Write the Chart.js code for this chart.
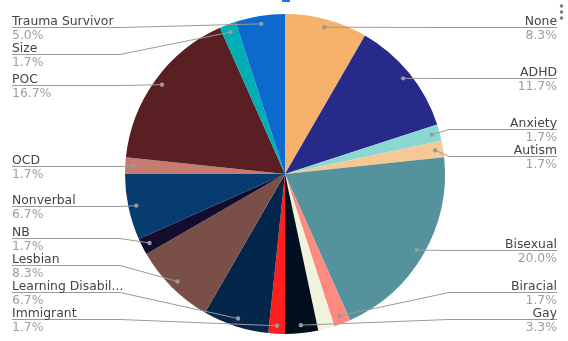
<!DOCTYPE html>
<html>
<head>
<meta charset="utf-8">
<script src="https://cdn.jsdelivr.net/npm/chart.js@4.4.1/dist/chart.umd.min.js"></script>
<style>
  html, body { margin: 0; padding: 0; background: #fff; }
  #wrap { width: 568px; height: 341px; position: relative; }
</style>
</head>
<body>
<div id="wrap"><canvas id="pie"></canvas></div>
<script>
// Slices in drawing order (clockwise from 12 o'clock)
const labels = ['None', 'ADHD', 'Anxiety', 'Autism', 'Bisexual', 'Biracial', 'Deaf',
    'Gay', 'Immigrant', 'Learning Disability', 'Lesbian', 'NB', 'Nonverbal', 'OCD',
    'POC', 'Size', 'Trauma Survivor'];
const counts = [5, 7, 1, 1, 12, 1, 1, 2, 1, 4, 5, 1, 4, 1, 10, 1, 3];
const colors = ['#f6b26b', '#282a8a', '#8ad8d1', '#f8c796', '#54939d', '#ff8a80', '#f0f4dc',
    '#020f1f', '#ff1d1d', '#03264a', '#7a4f48', '#140c2e', '#063c70', '#c57c6e',
    '#5a1f23', '#00afb5', '#0c69cd'];
// slices whose label is not drawn (no room in the reference)
const hiddenLabels = ['Deaf'];

const NAME_COLOR = '#444';
const PCT_COLOR = '#9e9e9e';
const LINE_COLOR = '#9a9a9a';
const FONT = '"DejaVu Sans", Verdana, sans-serif';

// Outside labels with leader lines, stacked per side
const calloutPlugin = {
    id: 'callouts',
    afterDatasetsDraw(chart) {
        const ctx = chart.ctx;
        const meta = chart.getDatasetMeta(0);
        const total = counts.reduce((a, b) => a + b, 0);
        const W = chart.width;
        const minY = 27, maxY = 319, gap = 27, seg = 108;
        const items = [];
        meta.data.forEach((arc, i) => {
            if (hiddenLabels.includes(labels[i])) return;
            const mid = (arc.startAngle + arc.endAngle) / 2;
            const r = arc.outerRadius * 0.95;
            const px = arc.x + Math.cos(mid) * r;
            const py = arc.y + Math.sin(mid) * r;
            items.push({ i, px, py, right: px >= arc.x, y: py });
        });

        // place each side: merge overlapping groups, centre on the mean, clamp
        [true, false].forEach(side => {
            const list = items.filter(d => d.right === side).sort((a, b) => a.py - b.py);
            let groups = list.map(d => ({ items: [d], want: [d.py] }));
            const layout = g => {
                const n = g.items.length;
                const mean = g.want.reduce((a, b) => a + b, 0) / n;
                let top = mean - (n - 1) * gap / 2;
                top = Math.max(minY, Math.min(top, maxY - (n - 1) * gap));
                g.top = top;
                g.bottom = top + (n - 1) * gap;
            };
            groups.forEach(layout);
            let merged = true;
            while (merged) {
                merged = false;
                for (let k = 0; k < groups.length - 1; k++) {
                    if (groups[k + 1].top - groups[k].bottom < gap) {
                        const g = { items: groups[k].items.concat(groups[k + 1].items),
                                    want: groups[k].want.concat(groups[k + 1].want) };
                        layout(g);
                        groups.splice(k, 2, g);
                        merged = true;
                        break;
                    }
                }
            }
            groups.forEach(g => g.items.forEach((d, j) => { d.y = g.top + j * gap; }));
        });

        ctx.save();
        items.forEach(d => {
            const x0 = d.right ? W - 11 : 12;
            const x1 = d.right ? x0 - seg : x0 + seg;
            const ly = Math.round(d.y) + 0.5;

            ctx.strokeStyle = LINE_COLOR;
            ctx.lineWidth = 1;
            ctx.beginPath();
            ctx.moveTo(x0, ly);
            ctx.lineTo(x1, ly);
            ctx.lineTo(d.px, d.py);
            ctx.stroke();

            ctx.fillStyle = LINE_COLOR;
            ctx.beginPath();
            ctx.arc(d.px, d.py, 2.2, 0, Math.PI * 2);
            ctx.fill();

            let name = labels[d.i];
            ctx.font = '12.4px ' + FONT;
            if (ctx.measureText(name).width > seg) {
                while (name.length && ctx.measureText(name + '...').width > seg + 6) name = name.slice(0, -1);
                name += '...';
            }
            ctx.textAlign = d.right ? 'right' : 'left';
            ctx.textBaseline = 'alphabetic';
            ctx.fillStyle = NAME_COLOR;
            ctx.fillText(name, x0, ly - 3);
            ctx.fillStyle = PCT_COLOR;
            ctx.fillText((counts[d.i] / total * 100).toFixed(1) + '%', x0, ly + 11.5);
        });

        // menu dots top right and the clipped blue mark at top centre
        ctx.fillStyle = '#777';
        [6, 12, 18].forEach(y => {
            ctx.beginPath();
            ctx.arc(561.5, y, 1.7, 0, Math.PI * 2);
            ctx.fill();
        });
        ctx.fillStyle = '#1a73e8';
        ctx.fillRect(282, 0, 8, 2);
        ctx.restore();
    }
};

new Chart(document.getElementById('pie').getContext('2d'), {
    type: 'pie',
    data: {
        labels: labels,
        datasets: [{
            data: counts,
            backgroundColor: colors,
            borderWidth: 0
        }]
    },
    options: {
        responsive: true,
        maintainAspectRatio: false,
        animation: false,
        layout: {
            padding: { top: 14, bottom: 7, left: 125, right: 123 }
        },
        plugins: {
            legend: { display: false },
            tooltip: { enabled: false }
        }
    },
    plugins: [calloutPlugin]
});
</script>
</body>
</html>
